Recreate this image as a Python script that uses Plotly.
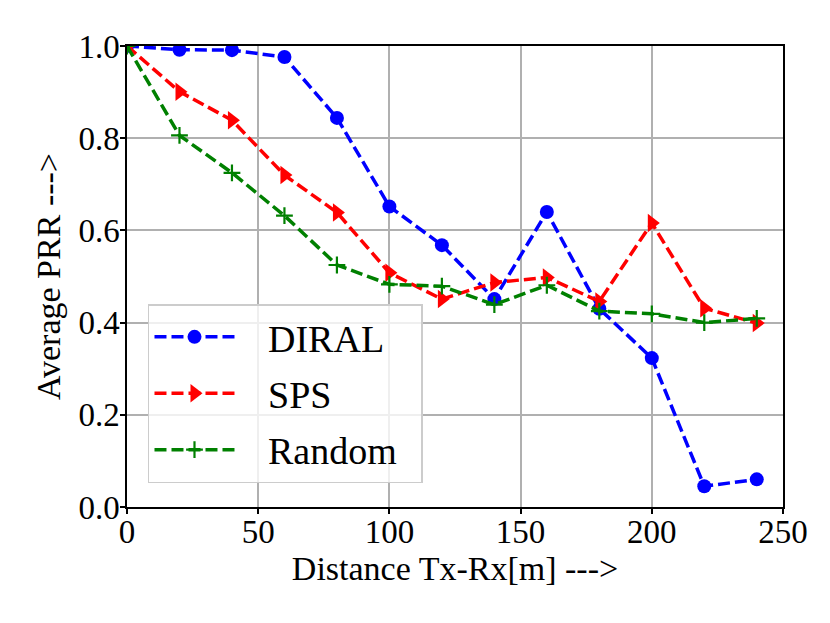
import plotly.graph_objects as go

## distance steps (m)
distance = [0, 20, 40, 60, 80, 100, 120, 140, 160, 180, 200, 220, 240]

## average PRR
diral = [1.0, 0.992, 0.991, 0.976, 0.844, 0.652, 0.568, 0.451, 0.640, 0.430, 0.323, 0.045, 0.060]
sps = [1.0, 0.901, 0.839, 0.720, 0.639, 0.508, 0.451, 0.487, 0.498, 0.446, 0.616, 0.431, 0.399]
rand = [1.0, 0.806, 0.725, 0.632, 0.525, 0.483, 0.479, 0.439, 0.481, 0.425, 0.419, 0.400, 0.409]

x_ticks = [0, 50, 100, 150, 200, 250]
y_ticks = [0.0, 0.2, 0.4, 0.6, 0.8, 1.0]

font = "Liberation Serif"
dash = "12px,5px"
pad = "\u00a0\u00a0\u00a0"  # push legend text right like matplotlib's handle gap
tail = "\u00a0\u00a0"

fig = go.Figure()
fig.add_trace(go.Scatter(x=distance, y=diral, name=pad + "DIRAL" + tail, mode="lines+markers",
                         legendgroup="a",
                         line=dict(color="blue", width=3.5, dash=dash),
                         marker=dict(symbol="circle", size=14, color="blue")))
fig.add_trace(go.Scatter(x=distance, y=sps, name=pad + "SPS", mode="lines+markers",
                         legendgroup="b",
                         line=dict(color="red", width=3.5, dash=dash),
                         marker=dict(symbol="triangle-right", size=16, color="red")))
fig.add_trace(go.Scatter(x=distance, y=rand, name=pad + "Random" + tail, mode="lines+markers",
                         legendgroup="c",
                         line=dict(color="green", width=3.5, dash=dash),
                         marker=dict(symbol="cross-thin", size=12, color="green",
                                     line=dict(color="green", width=2.2))))

axis_style = dict(showline=True, mirror=True, linecolor="black", linewidth=1.5,
                  ticks="outside", ticklen=5, tickwidth=1.5, tickcolor="black",
                  showgrid=True, gridcolor="#b0b0b0", gridwidth=1.5, zeroline=False,
                  tickfont=dict(family=font, size=33, color="black"))

## page body adds ~8px offset, so margins are shifted to compensate
fig.update_layout(
    width=830, height=623,
    margin=dict(l=119, r=55, t=38, b=124),
    paper_bgcolor="white", plot_bgcolor="white",
    font=dict(family=font, color="black"),
    xaxis=dict(range=[0, 250], tickvals=x_ticks, ticklabelstandoff=-10,
               title=dict(text="Distance Tx-Rx[m] --->", font=dict(family=font, size=34), standoff=0),
               **axis_style),
    yaxis=dict(range=[0, 1], tickvals=y_ticks, tickformat=".1f", ticklabelstandoff=-6,
               title=dict(text="Average PRR --->", font=dict(family=font, size=34), standoff=8),
               **axis_style),
    legend=dict(x=0.032, y=0.440, xanchor="left", yanchor="top", tracegroupgap=4,
                bgcolor="rgba(255,255,255,0.8)", bordercolor="#cccccc", borderwidth=1.5,
                font=dict(family=font, size=38, color="black"), itemwidth=80),
)

fig.write_html("out.html")
